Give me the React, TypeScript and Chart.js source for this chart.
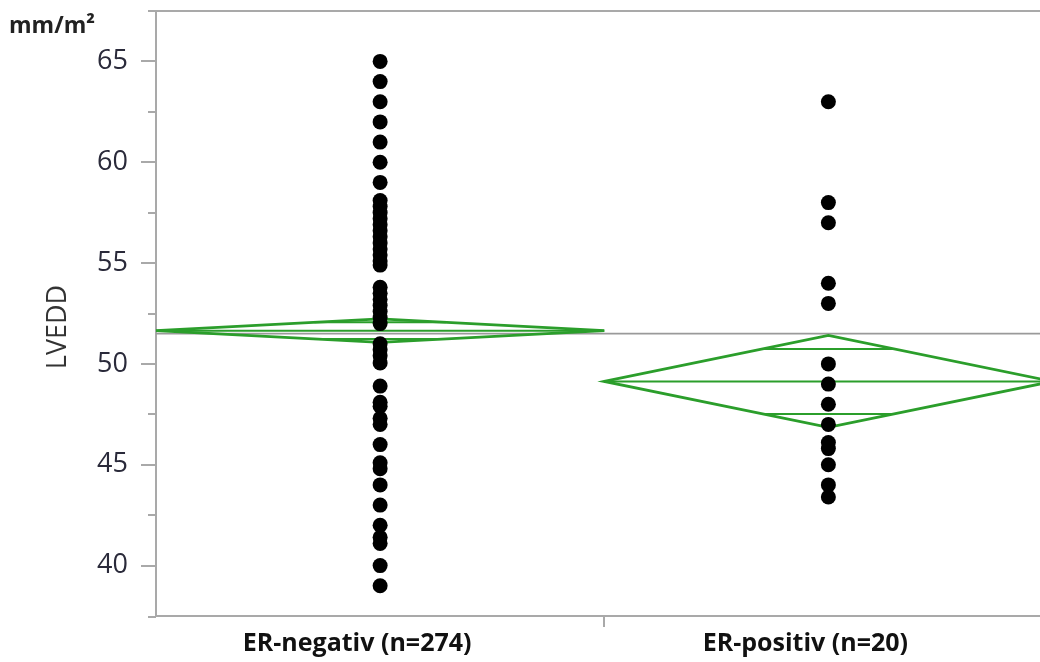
import React, { useEffect, useRef } from "react";
import { Chart, registerables } from "chart.js";

Chart.register(...registerables);

// ---- data ----
const categories = ["ER-negativ (n=274)", "ER-positiv (n=20)"];
const erNegativValues = [
  65, 64, 63, 62, 61, 60, 59,
  58.1, 57.8, 57.5, 57.2, 56.9, 56.6, 56.3, 56.0, 55.7, 55.4, 55.1, 54.9,
  53.8, 53.5, 53.2, 52.9, 52.6, 52.3, 52.0,
  51.0, 50.7, 50.4, 50.05,
  48.9, 48.1, 47.9, 47.3, 47.0, 46.0, 45.1, 44.8, 44.0, 43.0, 42.0, 41.4, 41.1, 40.0, 39.0,
];
const erPositivValues = [63, 58, 57, 54, 53, 50, 49, 48, 47, 46.1, 45.8, 45, 44, 43.4];
const groupMeans = [51.65, 49.13];
const groupCiLow = [51.07, 46.85];
const groupCiHigh = [52.23, 51.41];
const grandMean = 51.5;
const yMajorTicks = [40, 45, 50, 55, 60, 65];
const yMinorTicks = [42.5, 47.5, 52.5, 57.5, 62.5];
const yTitle = "LVEDD";
const unitLabel = "mm/m²";

const AXIS_GRAY = "#a9a9a9";
const GREEN = "#2b9e2b";

const jmpPlugin = {
  id: "jmpPlugin",
  beforeDatasetsDraw(chart: any) {
    const { ctx, chartArea, scales } = chart;
    const x = scales.x;
    const y = scales.y;
    ctx.save();
    // grand mean line
    const gy = y.getPixelForValue(grandMean);
    ctx.strokeStyle = "#9a9a9a";
    ctx.lineWidth = 1.6;
    ctx.beginPath();
    ctx.moveTo(chartArea.left, gy);
    ctx.lineTo(chartArea.right, gy);
    ctx.stroke();

    // means diamonds
    for (let i = 0; i < groupMeans.length; i++) {
      const cx = x.getPixelForValue(i);
      const xl = x.getPixelForValue(i - 0.5);
      const xr = x.getPixelForValue(i + 0.5);
      const ym = y.getPixelForValue(groupMeans[i]);
      const yh = y.getPixelForValue(groupCiHigh[i]);
      const yl = y.getPixelForValue(groupCiLow[i]);
      ctx.strokeStyle = GREEN;
      ctx.lineWidth = 2.8;
      ctx.lineJoin = "miter";
      ctx.beginPath();
      ctx.moveTo(xl, ym);
      ctx.lineTo(cx, yh);
      ctx.lineTo(xr, ym);
      ctx.lineTo(cx, yl);
      ctx.closePath();
      ctx.stroke();
      // mean line
      ctx.lineWidth = 2;
      ctx.beginPath();
      ctx.moveTo(xl, ym);
      ctx.lineTo(xr, ym);
      ctx.stroke();
      // overlap marks
      const frac = 1 - 1 / Math.SQRT2;
      const halfW = (xr - cx) * frac;
      const dUp = (groupCiHigh[i] - groupMeans[i]) / Math.SQRT2;
      const dDn = (groupMeans[i] - groupCiLow[i]) / Math.SQRT2;
      [groupMeans[i] + dUp, groupMeans[i] - dDn].forEach((v) => {
        const py = y.getPixelForValue(v);
        ctx.beginPath();
        ctx.moveTo(cx - halfW, py);
        ctx.lineTo(cx + halfW, py);
        ctx.stroke();
      });
    }
    ctx.restore();
  },
  afterDraw(chart: any) {
    const { ctx, chartArea, scales } = chart;
    const y = scales.y;
    ctx.save();
    ctx.strokeStyle = AXIS_GRAY;
    ctx.lineWidth = 2;
    // minor ticks
    yMinorTicks.forEach((v) => {
      const py = Math.round(y.getPixelForValue(v));
      ctx.beginPath();
      ctx.moveTo(chartArea.left - 8, py);
      ctx.lineTo(chartArea.left, py);
      ctx.stroke();
    });
    // top frame line
    ctx.beginPath();
    ctx.moveTo(chartArea.left - 8, chartArea.top);
    ctx.lineTo(chart.width, chartArea.top);
    ctx.stroke();
    // bottom extension
    ctx.beginPath();
    ctx.moveTo(chartArea.left - 8, chartArea.bottom + 1);
    ctx.lineTo(chartArea.left, chartArea.bottom + 1);
    ctx.stroke();

    // unit label
    ctx.fillStyle = "#222";
    ctx.font = "bold 23px 'Open Sans', sans-serif";
    ctx.textAlign = "left";
    ctx.textBaseline = "alphabetic";
    ctx.fillText(unitLabel, 9, 33);

    // y title
    ctx.translate(58, 327);
    ctx.rotate(-Math.PI / 2);
    ctx.fillStyle = "#333";
    ctx.font = "27px 'Open Sans', sans-serif";
    ctx.textAlign = "center";
    ctx.textBaseline = "middle";
    ctx.fillText(yTitle, 0, 0);
    ctx.restore();
  },
};

export default function App() {
  const ref = useRef<HTMLCanvasElement>(null);
  useEffect(() => {
    const canvas = ref.current;
    if (!canvas) return;
    const chart = new Chart(canvas, {
      type: "scatter",
      data: {
        datasets: [
          {
            label: categories[0],
            data: erNegativValues.map((v) => ({ x: 0, y: v })),
            backgroundColor: "#000",
            borderWidth: 0,
            pointRadius: 7.5,
          },
          {
            label: categories[1],
            data: erPositivValues.map((v) => ({ x: 1, y: v })),
            backgroundColor: "#000",
            borderWidth: 0,
            pointRadius: 7.5,
          },
        ],
      },
      options: {
        responsive: false,
        animation: false,
        devicePixelRatio: 1,
        layout: { padding: { left: 0, top: 11, right: 7, bottom: 0 } },
        plugins: { legend: { display: false }, tooltip: { enabled: false } },
        scales: {
          x: {
            type: "linear",
            min: -0.5,
            max: 1.5,
            afterBuildTicks: (scale: any) => {
              scale.ticks = [{ value: 0 }, { value: 0.5 }, { value: 1 }];
            },
            afterFit: (scale: any) => {
              scale.height = 46;
              scale.paddingLeft = 0;
              scale.paddingRight = 0;
            },
            grid: {
              display: true,
              drawOnChartArea: false,
              drawTicks: true,
              tickLength: 11,
              lineWidth: 2,
              color: (ctx: any) => (ctx.tick && ctx.tick.value === 0.5 ? AXIS_GRAY : "rgba(0,0,0,0)"),
            },
            border: { display: true, color: AXIS_GRAY, width: 2 },
            ticks: {
              autoSkip: false,
              maxRotation: 0,
              minRotation: 0,
              padding: 2,
              labelOffset: -23,
              color: "#111",
              font: { family: "'Open Sans', sans-serif", size: 25, weight: "bold" },
              callback: (v: any) => (v === 0 ? categories[0] : v === 1 ? categories[1] : ""),
            },
          },
          y: {
            type: "linear",
            min: 37.5,
            max: 67.5,
            afterBuildTicks: (scale: any) => {
              scale.ticks = yMajorTicks.map((v) => ({ value: v }));
            },
            afterFit: (scale: any) => {
              scale.width = 156;
              scale.paddingTop = 0;
              scale.paddingBottom = 0;
            },
            grid: {
              display: true,
              drawOnChartArea: false,
              drawTicks: true,
              tickLength: 15,
              lineWidth: 2,
              color: AXIS_GRAY,
            },
            border: { display: true, color: AXIS_GRAY, width: 2 },
            ticks: {
              padding: 13,
              color: "#2a2a3a",
              font: { family: "'Open Sans', sans-serif", size: 27 },
              callback: (v: any) => String(v),
            },
          },
        },
      },
      plugins: [jmpPlugin],
    } as any);
    return () => chart.destroy();
  }, []);

  return (
    <div
      style={{
        position: "fixed",
        left: 0,
        top: 0,
        width: 1040,
        height: 662,
        overflow: "hidden",
        background: "#fff",
      }}
    >
      <canvas ref={ref} width={1060} height={662} style={{ display: "block", width: 1060, height: 662 }} />
    </div>
  );
}
